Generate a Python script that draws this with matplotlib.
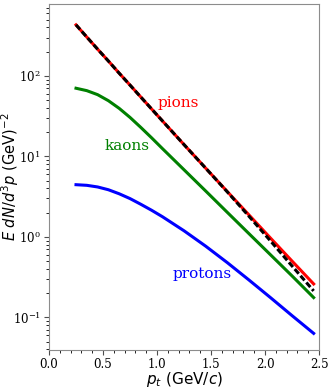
import matplotlib
matplotlib.use("Agg")
import matplotlib.pyplot as plt
from matplotlib.ticker import MultipleLocator

plt.rcParams["font.family"] = "DejaVu Serif"
plt.rcParams["mathtext.fontset"] = "dejavusans"

# transverse momentum grid (GeV/c)
pt = [0.25, 0.35, 0.45, 0.55, 0.65, 0.75, 0.85, 0.95, 1.05,
      1.25, 1.45, 1.65, 1.85, 2.05, 2.25, 2.45]

# invariant yields
pions = [431, 304, 215, 153, 108, 76.9, 54.6, 38.8, 27.6,
         14.0, 7.15, 3.66, 1.88, 0.967, 0.50, 0.26]
pions_fit = [431, 304, 215, 153, 108, 76.9, 54.6, 38.8, 27.6,
             14.0, 7.15, 3.63, 1.81, 0.892, 0.435, 0.213]
kaons = [70.3, 65.6, 58.5, 49.2, 39.5, 30.5, 22.9, 17.0, 12.5,
         6.82, 3.72, 2.02, 1.10, 0.600, 0.327, 0.176]
protons = [4.45, 4.37, 4.17, 3.85, 3.43, 2.99, 2.54, 2.14, 1.78,
           1.19, 0.767, 0.479, 0.292, 0.176, 0.105, 0.0632]

fig = plt.figure(figsize=(3.32, 3.88), dpi=100)
ax = fig.add_axes([0.1476, 0.098, 0.8134, 0.8917])

lw = 2.2
ax.plot(pt, pions, color="red", lw=lw)
ax.plot(pt, kaons, color="green", lw=lw)
ax.plot(pt, protons, color="blue", lw=lw)
ax.plot(pt, pions_fit, color="black", lw=lw, linestyle=(0, (2.0, 0.9)))

ax.text(1.20, 46, "pions", color="red", fontsize=11, ha="center", va="center")
ax.text(0.72, 13.5, "kaons", color="green", fontsize=11, ha="center", va="center")
ax.text(1.42, 0.345, "protons", color="blue", fontsize=11, ha="center", va="center")

ax.set_yscale("log")
ax.set_xlim(0, 2.5)
ax.set_ylim(0.0393, 783)
ax.xaxis.set_minor_locator(MultipleLocator(0.1))
ax.tick_params(labelsize=8.5, color="0.3", pad=2.5)
for s in ax.spines.values():
    s.set_color("0.55")

ax.set_xlabel(r"$p_t\ (\mathrm{GeV}/c)$", fontsize=11)
ax.set_ylabel(r"$E\ dN/d^3p\ (\mathrm{GeV})^{-2}$", fontsize=10.5)
ax.xaxis.set_label_coords(0.5, -0.059)
ax.yaxis.set_label_coords(-0.105, 0.5)

fig.savefig("out.png", dpi=100)
